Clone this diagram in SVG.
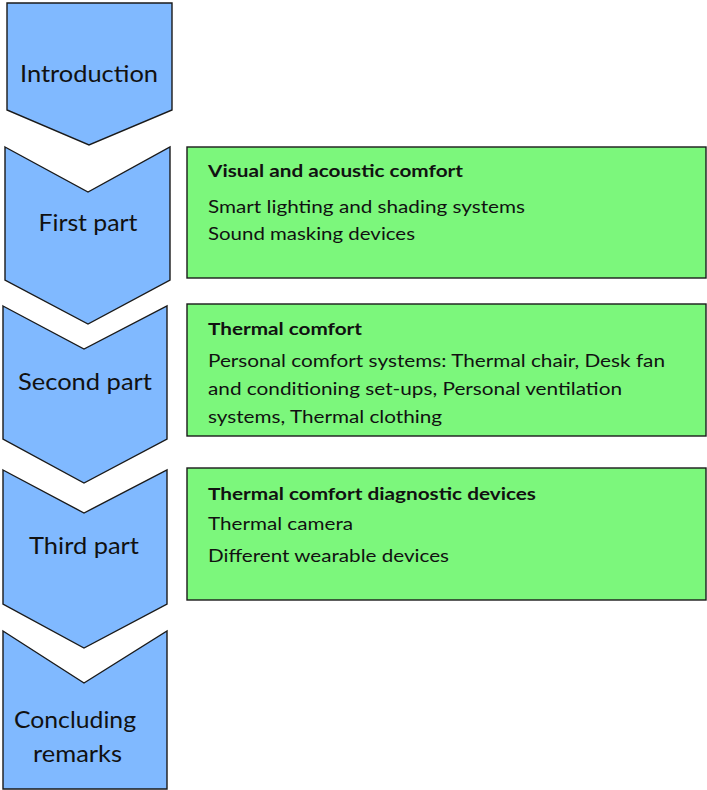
<svg xmlns="http://www.w3.org/2000/svg" width="707" height="790" viewBox="0 0 707 790">
<style>
.step{fill:#80B9FF;stroke:#1a1a1a;stroke-width:1.4;stroke-linejoin:miter}
.box{fill:#7CF77C;stroke:#1a1a1a;stroke-width:1.4}
.lt{font-family:Lato,"Open Sans",sans-serif;font-size:23.5px;fill:#111;text-anchor:middle}
.gt{font-family:Lato,"Open Sans",sans-serif;font-size:17px;fill:#111}
.gb{font-weight:bold}
</style>
<rect width="707" height="790" fill="#fff"/>
<g id="connectors"></g>
<g id="introduction">
<polygon class="step" points="7,3 172,3 172,110 89,145 7,110"/>
<text class="lt" x="89" y="82" textLength="138" lengthAdjust="spacingAndGlyphs">Introduction</text>
</g>
<g id="first-part">
<polygon class="step" points="5,147 88,192 170,147 170,280 88,324 5,280"/>
<text class="lt" x="88" y="231" textLength="99" lengthAdjust="spacingAndGlyphs">First part</text>
</g>
<g id="second-part">
<polygon class="step" points="3,306 84,349 167,306 167,439 84,483 3,439"/>
<text class="lt" x="85" y="390" textLength="134" lengthAdjust="spacingAndGlyphs">Second part</text>
</g>
<g id="third-part">
<polygon class="step" points="3,470 84,513 167,470 167,604 84,648 3,604"/>
<text class="lt" x="84" y="554" textLength="110" lengthAdjust="spacingAndGlyphs">Third part</text>
</g>
<g id="concluding-remarks">
<polygon class="step" points="3,631 84,683 167,631 167,789 3,789"/>
<text class="lt" x="75" y="728" textLength="122" lengthAdjust="spacingAndGlyphs">Concluding</text>
<text class="lt" x="77.5" y="762" textLength="89" lengthAdjust="spacingAndGlyphs">remarks</text>
</g>
<g id="visual-acoustic">
<rect class="box" x="187" y="147" width="519" height="131"/>
<text class="gt gb" x="208" y="177" textLength="255" lengthAdjust="spacingAndGlyphs">Visual and acoustic comfort</text>
<text class="gt" x="208" y="213" textLength="317" lengthAdjust="spacingAndGlyphs">Smart lighting and shading systems</text>
<text class="gt" x="208" y="240" textLength="207" lengthAdjust="spacingAndGlyphs">Sound masking devices</text>
</g>
<g id="thermal-comfort">
<rect class="box" x="187" y="304" width="519" height="132"/>
<text class="gt gb" x="208" y="335" textLength="154" lengthAdjust="spacingAndGlyphs">Thermal comfort</text>
<text class="gt" x="208" y="367" textLength="457" lengthAdjust="spacingAndGlyphs">Personal comfort systems: Thermal chair, Desk fan</text>
<text class="gt" x="208" y="395" textLength="414" lengthAdjust="spacingAndGlyphs">and conditioning set-ups, Personal ventilation</text>
<text class="gt" x="208" y="423" textLength="234" lengthAdjust="spacingAndGlyphs">systems, Thermal clothing</text>
</g>
<g id="diagnostic-devices">
<rect class="box" x="187" y="468" width="519" height="132"/>
<text class="gt gb" x="208" y="500" textLength="328" lengthAdjust="spacingAndGlyphs">Thermal comfort diagnostic devices</text>
<text class="gt" x="208" y="530" textLength="145" lengthAdjust="spacingAndGlyphs">Thermal camera</text>
<text class="gt" x="208" y="562" textLength="241" lengthAdjust="spacingAndGlyphs">Different wearable devices</text>
</g>
</svg>
